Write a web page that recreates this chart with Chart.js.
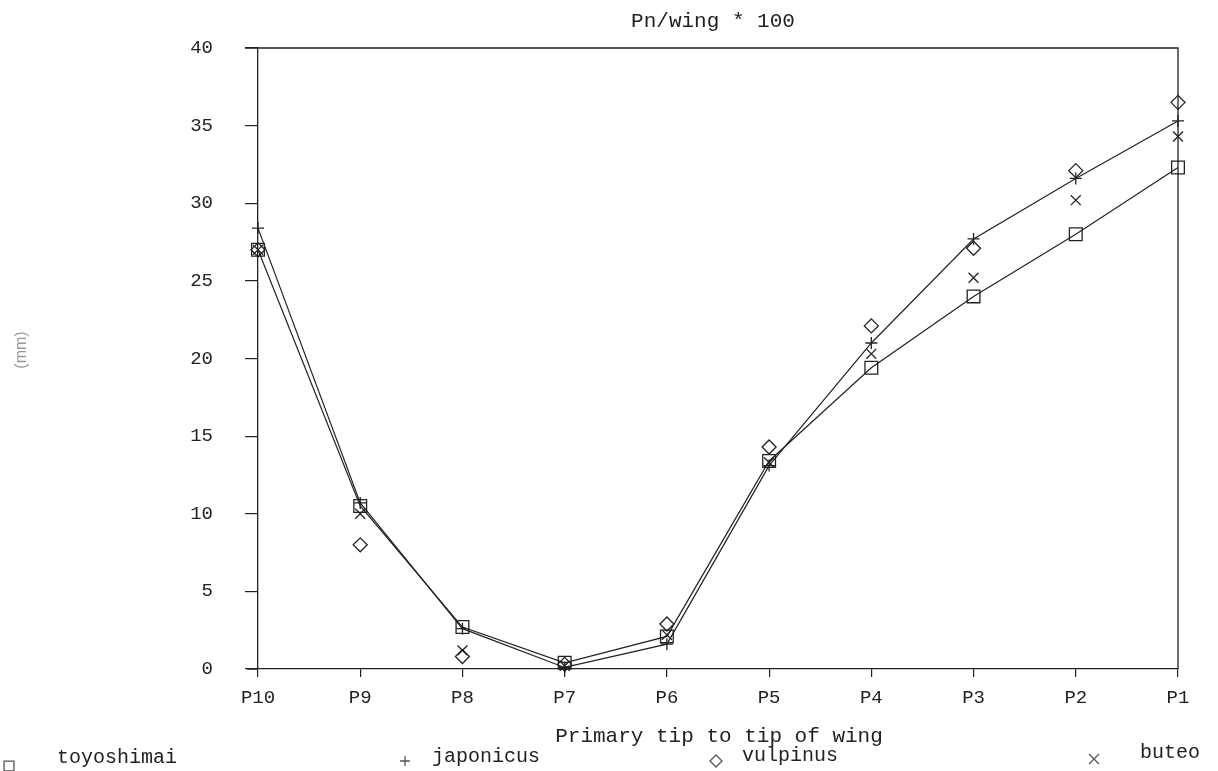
<!DOCTYPE html>
<html>
<head>
<meta charset="utf-8">
<script src="https://cdn.jsdelivr.net/npm/chart.js@4.4.0/dist/chart.umd.min.js"></script>
<style>
  html, body { margin: 0; padding: 0; background: #fff; }
  #wrap { width: 1218px; height: 771px; position: relative; }
</style>
</head>
<body>
<div id="wrap"><canvas id="chart" width="1218" height="771"></canvas></div>
<script>
// Categories (primaries, tip to tip of wing)
const categories = ['P10', 'P9', 'P8', 'P7', 'P6', 'P5', 'P4', 'P3', 'P2', 'P1'];

// Series values (Pn/wing * 100)
const toyoshimai = [27.0, 10.5, 2.7, 0.4, 2.1, 13.4, 19.4, 24.0, 28.0, 32.3];
const japonicus  = [28.4, 10.7, 2.6, 0.1, 1.6, 13.1, 21.0, 27.7, 31.6, 35.3];
const vulpinus   = [27.0, 8.0, 0.8, 0.3, 2.9, 14.3, 22.1, 27.1, 32.1, 36.5];
const buteo      = [27.0, 10.0, 1.2, 0.2, 2.2, 13.3, 20.3, 25.2, 30.2, 34.3];

// Y tick labels
const yTicks = [0, 5, 10, 15, 20, 25, 30, 35, 40];

const MONO = '"Liberation Mono", "Courier New", monospace';
const INK = '#222';

// Frame, titles and legend
const decorations = {
  id: 'decorations',
  afterDraw(chart) {
    const ctx = chart.ctx;
    const a = chart.chartArea;
    ctx.save();
    ctx.strokeStyle = INK;
    ctx.lineWidth = 1.3;
    ctx.beginPath();
    ctx.moveTo(a.left - 13, a.top);
    ctx.lineTo(a.right, a.top);
    ctx.lineTo(a.right, a.bottom);
    ctx.moveTo(a.left - 11, a.bottom);
    ctx.lineTo(a.left, a.bottom);
    ctx.stroke();

    ctx.fillStyle = INK;
    ctx.font = '21px ' + MONO;
    ctx.textAlign = 'center';
    ctx.textBaseline = 'middle';
    ctx.fillText('Pn/wing * 100', 713, 21);
    ctx.fillText('Primary tip to tip of wing', 719, 736);

    // y axis title
    ctx.save();
    ctx.translate(22, 350);
    ctx.rotate(-Math.PI / 2);
    ctx.fillStyle = '#999';
    ctx.font = '16px "Liberation Sans", sans-serif';
    ctx.fillText('(mm)', 0, 0);
    ctx.restore();

    // legend
    const items = [
      { sx: 9, sy: 766, r: 7, tx: 57, ty: 758 },
      { sx: 405, sy: 761, r: 5, tx: 432, ty: 757 },
      { sx: 716, sy: 761, r: 6, tx: 742, ty: 756 },
      { sx: 1094, sy: 759, r: 7, tx: 1140, ty: 753 }
    ];
    ctx.font = '20px ' + MONO;
    ctx.textAlign = 'left';
    chart.data.datasets.forEach((ds, i) => {
      const it = items[i];
      ctx.strokeStyle = '#555';
      ctx.fillStyle = 'rgba(0,0,0,0)';
      Chart.helpers.drawPoint(ctx, { pointStyle: ds.pointStyle, radius: it.r, borderWidth: 1 }, it.sx, it.sy);
      ctx.fillStyle = INK;
      ctx.fillText(ds.label, it.tx, it.ty);
    });
    ctx.restore();
  }
};

const lineSeries = (label, data, style, radius, showLine) => ({
  label: label,
  data: data,
  showLine: showLine,
  pointStyle: style,
  pointRadius: radius,
  pointHoverRadius: radius,
  borderColor: INK,
  borderWidth: 1.2,
  pointBorderColor: INK,
  pointBorderWidth: 1.3,
  backgroundColor: 'rgba(0,0,0,0)',
  pointBackgroundColor: 'rgba(0,0,0,0)',
  tension: 0,
  clip: false
});

new Chart(document.getElementById('chart'), {
  type: 'line',
  data: {
    labels: categories,
    datasets: [
      lineSeries('toyoshimai', toyoshimai, 'rect', 9, true),
      lineSeries('japonicus', japonicus, 'cross', 6, true),
      lineSeries('vulpinus', vulpinus, 'rectRot', 7, false),
      lineSeries('buteo', buteo, 'crossRot', 7, false)
    ]
  },
  options: {
    responsive: false,
    devicePixelRatio: 1,
    animation: false,
    layout: { padding: { top: 48, right: 40, left: 0, bottom: 0 } },
    plugins: {
      legend: { display: false },
      title: { display: false },
      tooltip: { enabled: false }
    },
    scales: {
      x: {
        type: 'category',
        offset: false,
        grid: { drawOnChartArea: false, drawTicks: true, tickLength: 8, color: INK, lineWidth: 1.2 },
        border: { display: true, color: INK, width: 1.3 },
        ticks: { color: INK, font: { family: MONO, size: 19 }, padding: 10, maxRotation: 0, autoSkip: false },
        afterFit(scale) { scale.height = 102; }
      },
      y: {
        min: 0,
        max: 40,
        afterBuildTicks(scale) { scale.ticks = yTicks.map(v => ({ value: v })); },
        grid: { drawOnChartArea: false, drawTicks: true, tickLength: 13, color: INK, lineWidth: 1.2 },
        border: { display: true, color: INK, width: 1.3 },
        ticks: { color: INK, font: { family: MONO, size: 19 }, padding: 32 },
        afterFit(scale) { scale.width = 258; }
      }
    }
  },
  plugins: [decorations]
});
</script>
</body>
</html>
